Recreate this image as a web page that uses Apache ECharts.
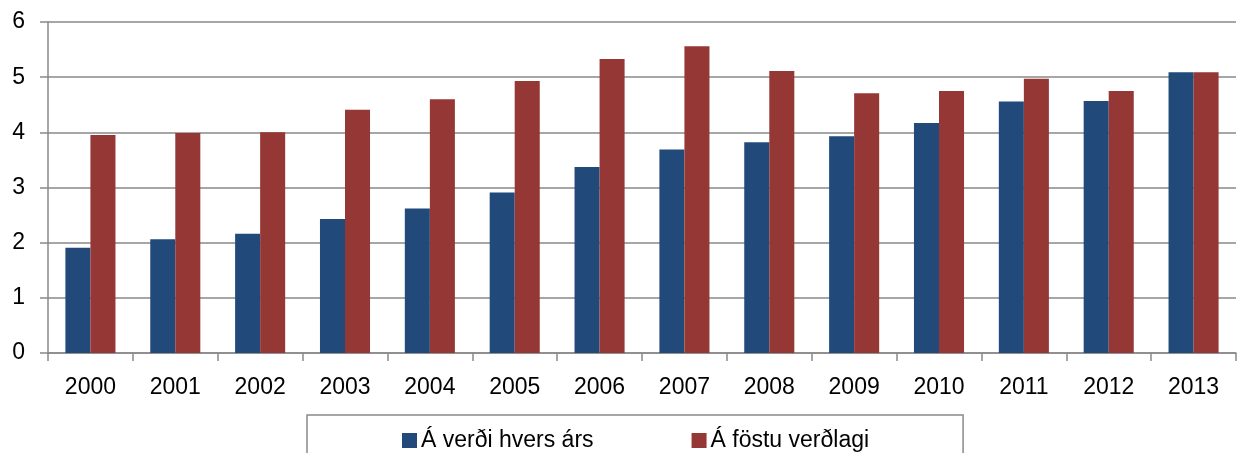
<!DOCTYPE html>
<html>
<head>
<meta charset="utf-8">
<script src="https://cdn.jsdelivr.net/npm/echarts@6/dist/echarts.min.js"></script>
<style>
  html, body { margin: 0; padding: 0; background: #fff; }
  #chart { width: 1240px; height: 453px; }
</style>
</head>
<body>
<div id="chart"></div>
<script>
// ár
const years = ['2000', '2001', '2002', '2003', '2004', '2005', '2006', '2007', '2008', '2009', '2010', '2011', '2012', '2013'];
// Á verði hvers árs
const currentPrices = [1.91, 2.06, 2.16, 2.43, 2.62, 2.91, 3.37, 3.69, 3.82, 3.93, 4.17, 4.56, 4.57, 5.09];
// Á föstu verðlagi
const fixedPrices = [3.95, 3.99, 4.00, 4.41, 4.60, 4.93, 5.33, 5.56, 5.11, 4.71, 4.75, 4.97, 4.75, 5.09];
const yTicks = [0, 1, 2, 3, 4, 5, 6];

const font = 'Liberation Sans, Arial, sans-serif';
const gray = '#898989';

const chart = echarts.init(document.getElementById('chart'));
const option = {
    animation: false,
    color: ['#214A7B', '#953735'],
    textStyle: { fontFamily: font },
    grid: {
        left: 48,
        right: 4,
        top: 22,
        bottom: 100
    },
    legend: {
        left: 307,
        top: 415,
        itemWidth: 15,
        itemHeight: 15,
        itemGap: 98,
        padding: [14, 94, 60, 95],
        borderColor: gray,
        borderWidth: 1.5,
        icon: 'rect',
        textStyle: { fontSize: 23, color: '#000', fontFamily: font, padding: [0, 0, 0, -1] },
        data: ['Á verði hvers árs', 'Á föstu verðlagi']
    },
    xAxis: {
        type: 'category',
        data: years,
        axisLine: { lineStyle: { color: gray, width: 1.5 } },
        axisTick: { show: true, length: 8, interval: 0, lineStyle: { color: gray, width: 1.5 } },
        axisLabel: { interval: 0, fontSize: 23, color: '#000', margin: 23 }
    },
    yAxis: {
        type: 'value',
        min: yTicks[0],
        max: yTicks[yTicks.length - 1],
        interval: 1,
        axisLine: { show: true, lineStyle: { color: gray, width: 1.5 } },
        axisTick: { show: true, length: 8, lineStyle: { color: gray, width: 1.5 } },
        axisLabel: { fontSize: 23, color: '#000', margin: 23 },
        splitLine: { show: true, lineStyle: { color: gray, width: 1.5 } }
    },
    series: [
        {
            name: 'Á verði hvers árs',
            type: 'bar',
            barGap: 0,
            barCategoryGap: '41%',
            data: currentPrices
        },
        {
            name: 'Á föstu verðlagi',
            type: 'bar',
            barGap: 0,
            barCategoryGap: '41%',
            data: fixedPrices
        }
    ]
};
chart.setOption(option);
</script>
</body>
</html>
